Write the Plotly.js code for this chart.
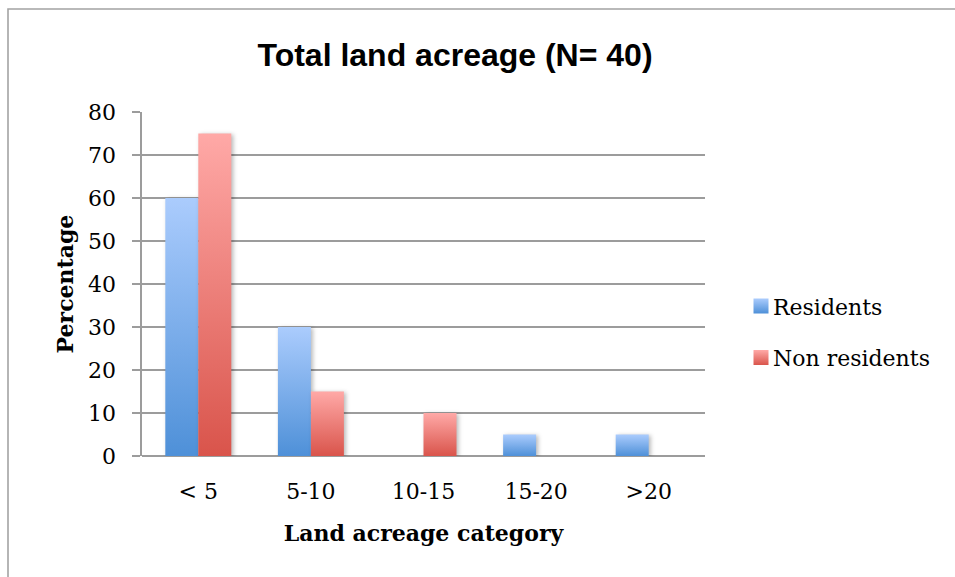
<!DOCTYPE html>
<html>
<head>
<meta charset="utf-8">
<script src="https://cdn.plot.ly/plotly-3.0.1.min.js"></script>
<style>
  html, body { margin: 0; padding: 0; background: #fff; overflow: hidden; }
  #chart { width: 955px; height: 577px; }
</style>
</head>
<body>
<div id="chart"></div>
<script>
// Share of respondents by total land acreage
const categories = ['< 5', '5-10', '10-15', '15-20', '>20'];
const residents = [60, 30, 0, 5, 5];
const nonResidents = [75, 15, 10, 0, 0];
const yTicks = [0, 10, 20, 30, 40, 50, 60, 70, 80];

const serif = 'DejaVu Serif, Liberation Serif, serif';
const gridGrey = '#9c9c9c';

const traces = [
  {
    type: 'bar', name: 'Residents', x: categories, y: residents,
    marker: { color: '#78aeea', line: { width: 0 } },
    legendgroup: 'r', hoverinfo: 'x+y+name'
  },
  {
    type: 'bar', name: 'Non residents', x: categories, y: nonResidents,
    marker: { color: '#ee7f79', line: { width: 0 } },
    legendgroup: 'n', hoverinfo: 'x+y+name'
  }
];

const layout = {
  width: 955, height: 577,
  margin: { l: 142, r: 250, t: 112, b: 121, pad: 0 },
  paper_bgcolor: '#ffffff', plot_bgcolor: '#ffffff',
  barmode: 'group', bargap: 0.414, bargroupgap: 0,
  title: {
    text: 'Total land acreage (N= 40)',
    font: { family: 'Liberation Sans, Arial, sans-serif', size: 32, color: '#000', weight: 'bold' },
    x: 455 / 955, xref: 'container', xanchor: 'center',
    y: 1 - 55 / 577, yref: 'container', yanchor: 'middle'
  },
  xaxis: {
    type: 'category',
    showgrid: false, zeroline: false,
    showline: false, ticks: '',
    tickfont: { family: serif, size: 22, color: '#000' },
    ticklabelstandoff: 20,
    title: {
      text: 'Land acreage category',
      font: { family: serif, size: 22, color: '#000', weight: 'bold' },
      standoff: 22
    },
    fixedrange: true
  },
  yaxis: {
    range: [0, 80], tickvals: yTicks, ticktext: yTicks.map(String),
    showgrid: true, gridcolor: gridGrey, gridwidth: 1.6,
    zeroline: true, zerolinecolor: gridGrey, zerolinewidth: 1.6,
    showline: true, linecolor: gridGrey, linewidth: 1.6,
    ticks: 'outside', ticklen: 8, tickwidth: 1.6, tickcolor: gridGrey,
    tickfont: { family: serif, size: 22, color: '#000' },
    ticklabelstandoff: 12,
    title: {
      text: 'Percentage',
      font: { family: serif, size: 22, color: '#000', weight: 'bold' },
      standoff: 8
    },
    fixedrange: true
  },
  legend: {
    x: (733 - 142) / 563, xanchor: 'left', xref: 'paper',
    y: 0.36, yanchor: 'middle', yref: 'paper',
    traceorder: 'grouped', tracegroupgap: 20,
    font: { family: serif, size: 22, color: '#000' },
    bgcolor: 'rgba(0,0,0,0)', borderwidth: 0
  },
  showlegend: true,
  shapes: [
    // outer frame of the chart area (top and left edges fall inside the page)
    {
      type: 'rect', xref: 'paper', yref: 'paper',
      x0: (8 - 142) / 563, x1: 2, y0: -2, y1: (456 - 9) / 344,
      line: { color: '#a3a3a3', width: 1.6 }, fillcolor: 'rgba(0,0,0,0)', layer: 'below'
    }
  ]
};

// vertical gradients used by each series (light at the top, deeper at the base)
const gradients = [
  { id: 'gradResidents', top: '#abccfd', bottom: '#4e90d8' },
  { id: 'gradNonResidents', top: '#ffa9a7', bottom: '#d9544b' }
];

function applyGradients(gd) {
  const svg = gd.querySelector('.main-svg');
  const ns = 'http://www.w3.org/2000/svg';
  let defs = svg.querySelector('defs');
  if (!defs) { defs = document.createElementNS(ns, 'defs'); svg.insertBefore(defs, svg.firstChild); }
  gradients.forEach(g => {
    const lg = document.createElementNS(ns, 'linearGradient');
    lg.setAttribute('id', g.id);
    lg.setAttribute('x1', '0'); lg.setAttribute('y1', '0');
    lg.setAttribute('x2', '0'); lg.setAttribute('y2', '1');
    const s1 = document.createElementNS(ns, 'stop');
    s1.setAttribute('offset', '0'); s1.setAttribute('stop-color', g.top);
    const s2 = document.createElementNS(ns, 'stop');
    s2.setAttribute('offset', '1'); s2.setAttribute('stop-color', g.bottom);
    lg.appendChild(s1); lg.appendChild(s2);
    defs.appendChild(lg);
  });

  gd.querySelectorAll('.barlayer .trace').forEach((tr, i) => {
    tr.querySelectorAll('.point path').forEach(p => {
      p.style.fill = 'url(#' + gradients[i].id + ')';
      p.style.filter = 'drop-shadow(2px 1px 2px rgba(0,0,0,0.28))';
    });
  });

  gd.querySelectorAll('.legend .traces').forEach((tr, i) => {
    tr.querySelectorAll('.legendpoints path').forEach(p => {
      p.style.fill = 'url(#' + gradients[i].id + ')';
      p.setAttribute('transform', 'translate(28,0) scale(1.25)');
    });
  });
}

Plotly.newPlot('chart', traces, layout, { displayModeBar: false, staticPlot: true })
  .then(applyGradients);
</script>
</body>
</html>
